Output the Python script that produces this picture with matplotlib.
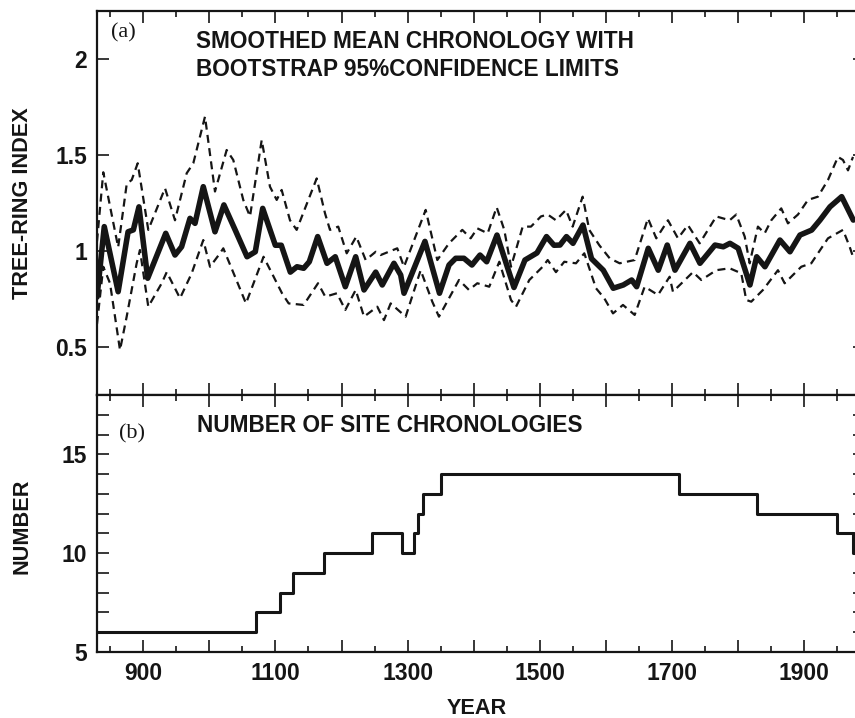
import matplotlib
matplotlib.use("Agg")
import matplotlib.pyplot as plt

# ---------------- data ----------------
mean_years = [830, 841, 862, 877, 885, 893.5, 906.7, 917.8, 934, 948, 958, 970.7, 978.3,
              990.8, 1008.5, 1022, 1039, 1057, 1069.5, 1080.7, 1099.8, 1108.8, 1122.5,
              1132.6, 1142.7, 1151.2, 1163.9, 1178, 1190.5, 1205.7, 1221.4, 1234, 1251.7,
              1261.6, 1279.3, 1289.5, 1294.5, 1326.2, 1348.2, 1362.6, 1372.7, 1385.2,
              1397.3, 1409.5, 1419.6, 1435.2, 1460.9, 1477.5, 1495.7, 1510.1, 1521.4,
              1530.5, 1540.3, 1550.2, 1565.3, 1578.2, 1596, 1611.1, 1626.3, 1639, 1646.5,
              1664.1, 1679.2, 1692.8, 1704.5, 1727.2, 1742.3, 1765, 1777.6, 1787.7,
              1800.2, 1817.9, 1828.1, 1840.6, 1863.3, 1878.5, 1893.6, 1911.3, 1923.9,
              1939, 1956.7, 1974.3]
mean_index = [0.76, 1.127, 0.788, 1.10, 1.11, 1.23, 0.858, 0.953, 1.092, 0.979, 1.022, 1.17,
              1.144, 1.335, 1.10, 1.24, 1.11, 0.97, 0.996, 1.222, 1.03, 1.03, 0.89, 0.918,
              0.91, 0.944, 1.075, 0.936, 0.97, 0.814, 0.97, 0.797, 0.89, 0.823, 0.936,
              0.875, 0.78, 1.05, 0.78, 0.927, 0.962, 0.962, 0.927, 0.979, 0.944, 1.083,
              0.81, 0.953, 0.99, 1.075, 1.03, 1.031, 1.075, 1.04, 1.135, 0.96, 0.90,
              0.806, 0.823, 0.849, 0.814, 1.014, 0.90, 1.031, 0.90, 1.04, 0.936, 1.031,
              1.022, 1.04, 1.014, 0.823, 0.97, 0.918, 1.057, 0.996, 1.083, 1.109, 1.161,
              1.23, 1.283, 1.161]

upper_years = [830, 839.5, 862, 875, 882.5, 891.6, 907.6, 932.9, 948, 965.7, 975.7, 993.4,
               1008.5, 1026.2, 1036.2, 1051.3, 1061.5, 1079.2, 1091.7, 1101.9, 1109.4,
               1122, 1132.1, 1162.4, 1175, 1182.5, 1195, 1207.8, 1222.3, 1236.5, 1251.7,
               1259.2, 1284.3, 1294.5, 1327.3, 1344.9, 1362.6, 1382.7, 1395.4, 1405.4,
               1421.1, 1434.7, 1446.2, 1456.4, 1474.1, 1486.6, 1501.7, 1511.9, 1524.4,
               1539.6, 1549.7, 1564.8, 1574.8, 1590, 1605.7, 1620.8, 1643.5, 1663.6,
               1676.2, 1693.9, 1709, 1724.1, 1741.8, 1767, 1787.2, 1797.2, 1810, 1817.5,
               1830, 1840.2, 1850.2, 1865.3, 1875.4, 1890.6, 1905.7, 1920.8, 1936,
               1951.1, 1958.7, 1966.3, 1973.8]
upper_index = [1.05, 1.41, 1.02, 1.35, 1.37, 1.457, 1.11, 1.327, 1.16, 1.405, 1.457, 1.70,
               1.31, 1.526, 1.474, 1.266, 1.18, 1.578, 1.335, 1.266, 1.318, 1.16, 1.11,
               1.378, 1.196, 1.11, 1.127, 0.988, 1.075, 0.953, 0.996, 0.979, 1.014, 0.918,
               1.214, 0.953, 1.04, 1.11, 1.066, 1.118, 1.092, 1.228, 1.11, 0.918, 1.127,
               1.127, 1.18, 1.19, 1.16, 1.214, 1.127, 1.283, 1.11, 1.03, 0.962, 0.936,
               0.953, 1.17, 1.066, 1.16, 1.066, 1.135, 1.04, 1.18, 1.16, 1.19, 1.075,
               0.936, 1.127, 1.092, 1.16, 1.222, 1.144, 1.19, 1.266, 1.283, 1.37, 1.49,
               1.474, 1.42, 1.49]

lower_years = [830, 839.5, 849.7, 864.8, 874.9, 890, 895, 907.6, 927.9, 935.5, 955.6,
               973.3, 990.8, 1001, 1016.1, 1021.1, 1044, 1055.4, 1082, 1109.9, 1120,
               1142.7, 1164.4, 1175.4, 1193.1, 1205.7, 1221.4, 1234, 1254.1, 1264.2,
               1274.3, 1297, 1319.7, 1337.3, 1347.4, 1377.7, 1392.8, 1405.4, 1423.5,
               1438.7, 1456.4, 1464, 1484.1, 1504.3, 1511.9, 1524.4, 1537, 1554.7,
               1567.3, 1585, 1597.5, 1610.7, 1625.8, 1643.5, 1658.6, 1678.8, 1696.4,
               1701.4, 1731.7, 1744.3, 1767, 1787.2, 1804.8, 1812.3, 1819.9, 1837.6,
               1860.3, 1870.4, 1895.6, 1910.7, 1936, 1958.7, 1968.8, 1973.8]
lower_index = [0.62, 0.918, 0.832, 0.484, 0.658, 0.936, 1.005, 0.71, 0.832, 0.89, 0.754,
               0.884, 1.057, 0.918, 0.988, 1.014, 0.823, 0.727, 0.97, 0.78, 0.727, 0.719,
               0.832, 0.762, 0.78, 0.693, 0.797, 0.658, 0.71, 0.64, 0.727, 0.658, 0.90,
               0.736, 0.658, 0.849, 0.797, 0.832, 0.814, 0.944, 0.745, 0.71, 0.849,
               0.918, 0.953, 0.89, 0.944, 0.936, 0.988, 0.806, 0.754, 0.675, 0.719,
               0.667, 0.814, 0.771, 0.866, 0.788, 0.89, 0.849, 0.90, 0.91, 0.884, 0.745,
               0.736, 0.797, 0.90, 0.832, 0.918, 0.936, 1.066, 1.11, 1.022, 0.97]

count_years = [830, 1070, 1107, 1126, 1174, 1246, 1291, 1310, 1316, 1324, 1351, 1710,
               1828, 1949, 1974, 1992]
count_values = [6, 7, 8, 9, 10, 11, 10, 11, 12, 13, 14, 13, 12, 11, 10, 10]

year_major = [900, 1000, 1100, 1200, 1300, 1400, 1500, 1600, 1700, 1800, 1900]
year_labels = ["900", "", "1100", "", "1300", "", "1500", "", "1700", "", "1900"]
year_minor = [850, 950, 1050, 1150, 1250, 1350, 1450, 1550, 1650, 1750, 1850, 1950]
index_ticks = [0.5, 1, 1.5, 2]
index_labels = ["0.5", "1", "1.5", "2"]
count_ticks = [5, 10, 15]
count_minor = [6, 7, 8, 9, 11, 12, 13, 14, 16, 17]

# ---------------- figure ----------------
W, H = 855, 718
fig = plt.figure(figsize=(W / 100, H / 100), dpi=100)
SANS = ["Liberation Sans", "DejaVu Sans"]
SERIF = ["Liberation Serif", "DejaVu Serif"]
INK = "#151515"

left, right = 97, 865
ax1 = fig.add_axes([left / W, 1 - 395 / H, (right - left) / W, (395 - 11) / H])
ax2 = fig.add_axes([left / W, 1 - 652 / H, (right - left) / W, (652 - 395) / H])

for ax in (ax1, ax2):
    ax.set_xlim(830, 1992)
    for s in ax.spines.values():
        s.set_linewidth(1.6)
        s.set_color(INK)
    ax.tick_params(which="both", direction="in", top=True, right=True,
                   color=INK, width=1.2)
    ax.tick_params(which="major", length=8.6, labelsize=16.5, pad=7)
    ax.tick_params(which="minor", length=4.6)
    ax.set_xticks(year_major)
    ax.set_xticks(year_minor, minor=True)

ax1.plot(upper_years, upper_index, color=INK, lw=1.6, dashes=(3.6, 2.4))
ax1.plot(lower_years, lower_index, color=INK, lw=1.6, dashes=(3.6, 2.4))
ax1.plot(mean_years, mean_index, color=INK, lw=4.0, solid_joinstyle="round",
         solid_capstyle="round")
ax1.set_ylim(0.25, 2.25)
ax1.set_yticks(index_ticks)
ax1.set_yticklabels(index_labels)
ax1.set_xticklabels([""] * len(year_major))

ax2.step(count_years, count_values, where="post", color=INK, lw=2.2)
ax2.set_ylim(5, 18)
ax2.set_yticks(count_ticks)
ax2.set_yticks(count_minor, minor=True)
ax2.tick_params(axis="y", which="minor", length=8.6)
ax2.set_xticklabels(year_labels)

for ax in (ax1, ax2):
    for lab in ax.get_xticklabels() + ax.get_yticklabels():
        lab.set_fontfamily(SANS)
        lab.set_fontweight("bold")
        lab.set_color(INK)


def ftext(x, y, s, **kw):
    fig.text(x / W, 1 - y / H, s, color=INK, **kw)


ftext(196, 42, "SMOOTHED MEAN CHRONOLOGY WITH", family=SANS, weight="bold",
      fontsize=16.3, ha="left", va="center")
ftext(196, 70, "BOOTSTRAP 95%CONFIDENCE LIMITS", family=SANS, weight="bold",
      fontsize=16.3, ha="left", va="center")
ftext(111, 33, "(a)", family=SERIF, fontsize=16, ha="left", va="center")
ftext(197, 426, "NUMBER OF SITE CHRONOLOGIES", family=SANS, weight="bold",
      fontsize=16.3, ha="left", va="center")
ftext(119, 434, "(b)", family=SERIF, fontsize=16, ha="left", va="center")
ftext(22, 203, "TREE-RING INDEX", family=SANS, weight="bold", fontsize=15.6,
      rotation=90, ha="center", va="center")
ftext(22, 526, "NUMBER", family=SANS, weight="bold", fontsize=15.6,
      rotation=90, ha="center", va="center")
ftext(477, 709, "YEAR", family=SANS, weight="bold", fontsize=15.6,
      ha="center", va="center")

fig.savefig("out.png", dpi=100)
